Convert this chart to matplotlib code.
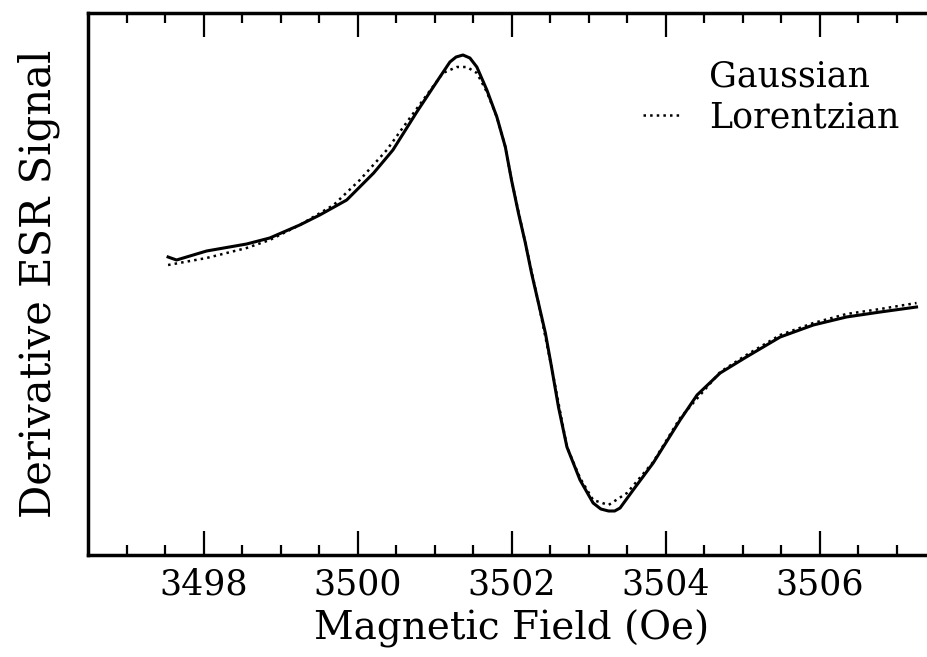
import numpy as np
import matplotlib
matplotlib.use("Agg")
import matplotlib.pyplot as plt
from matplotlib.lines import Line2D

plt.rcParams['font.family'] = ['DejaVu Serif']

# field (Oe) and signal (arb. units)
field_gauss = [3497.54, 3497.65, 3498.04, 3498.56, 3498.86, 3499.25, 3499.51, 3499.86,
               3500.21, 3500.46, 3500.77, 3501.07, 3501.20, 3501.28, 3501.37, 3501.46,
               3501.55, 3501.68, 3501.81, 3501.92, 3502.00, 3502.09, 3502.18, 3502.26,
               3502.35, 3502.44, 3502.52, 3502.61, 3502.72, 3502.89, 3503.06, 3503.16,
               3503.26, 3503.34, 3503.41, 3503.58, 3503.84, 3504.19, 3504.41, 3504.71,
               3505.05, 3505.49, 3505.92, 3506.35, 3506.79, 3507.26]
signal_gauss = [0.73, 0.70, 0.79, 0.86, 0.92, 1.05, 1.15, 1.30,
                1.57, 1.80, 2.18, 2.53, 2.68, 2.73, 2.75, 2.72,
                2.63, 2.40, 2.13, 1.83, 1.50, 1.17, 0.87, 0.57,
                0.27, -0.03, -0.37, -0.77, -1.17, -1.50, -1.73, -1.79,
                -1.81, -1.81, -1.78, -1.60, -1.33, -0.90, -0.65, -0.43,
                -0.27, -0.07, 0.05, 0.13, 0.18, 0.23]

field_lor = [3497.54, 3498.04, 3498.56, 3498.86, 3499.25, 3499.69, 3500.03, 3500.38,
             3500.68, 3501.11, 3501.29, 3501.42, 3501.55, 3501.68, 3501.81, 3501.92,
             3502.00, 3502.18, 3502.35, 3502.52, 3502.72, 3502.89, 3503.06, 3503.26,
             3503.50, 3503.84, 3504.19, 3504.71, 3505.05, 3505.49, 3505.92, 3506.35,
             3506.79, 3507.26]
signal_lor = [0.65, 0.72, 0.82, 0.90, 1.05, 1.25, 1.50, 1.80,
              2.12, 2.57, 2.63, 2.63, 2.57, 2.38, 2.13, 1.83,
              1.50, 0.87, 0.27, -0.37, -1.17, -1.48, -1.70, -1.75,
              -1.63, -1.32, -0.88, -0.42, -0.25, -0.05, 0.07, 0.16,
              0.21, 0.27]

xticks = [3498, 3500, 3502, 3504, 3506]

fig = plt.figure(figsize=(9.28, 6.57), dpi=100)
ax = fig.add_axes([88 / 928, 102 / 657, 847 / 928, 542 / 657])

ax.plot(field_gauss, signal_gauss, color='black', lw=2.2, solid_joinstyle='round')
ax.plot(field_lor, signal_lor, color='black', lw=1.8, ls=':')

ax.set_xlim(3496.5, 3507.5)
ax.set_ylim(-2.25, 3.17)

ax.set_xticks(xticks)
ax.set_xticks(np.arange(3497, 3507.5, 0.5), minor=True)
ax.set_yticks([])
ax.tick_params(axis='x', which='both', direction='in', top=True, bottom=True,
               width=1.6, labelsize=25, pad=9)
ax.tick_params(axis='x', which='major', length=17)
ax.tick_params(axis='x', which='minor', length=7)
for s in ['left', 'top', 'bottom']:
    ax.spines[s].set_linewidth(2.5)
ax.spines['right'].set_visible(False)

ax.set_xlabel('Magnetic Field (Oe)', fontsize=28, labelpad=6)
ax.set_ylabel('Derivative ESR Signal', fontsize=30, labelpad=20)

handles = [Line2D([], [], ls='none'),
           Line2D([], [], color='black', lw=1.8, ls=':')]
ax.legend(handles, ['Gaussian', 'Lorentzian'], loc='upper left',
          bbox_to_anchor=(0.655, 0.915), frameon=False, fontsize=25,
          handlelength=1.1, handletextpad=0.8, labelspacing=0.2,
          borderpad=0, borderaxespad=0)

fig.savefig('out.png', dpi=100)
